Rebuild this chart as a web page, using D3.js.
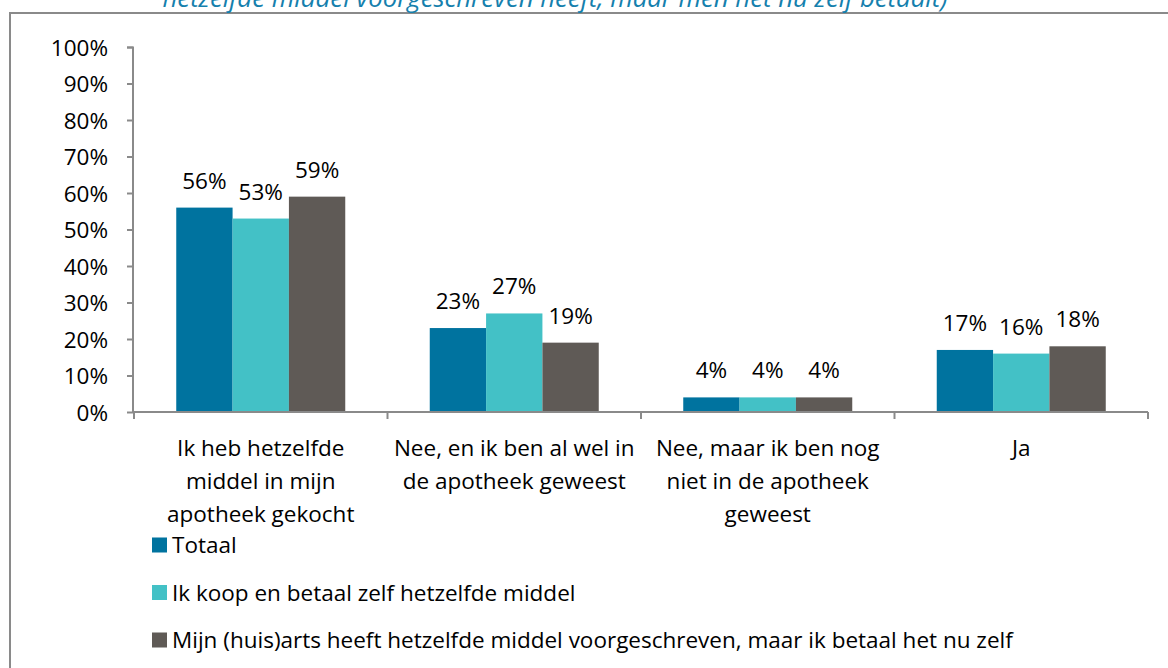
<!DOCTYPE html>
<html>
<head>
<meta charset="utf-8">
<script src="https://cdn.jsdelivr.net/npm/d3@7"></script>
<style>
  html, body { margin: 0; padding: 0; background: #fff; overflow: hidden; }
  svg { display: block; }
  text { font-family: "Open Sans", "Noto Sans", sans-serif; }
</style>
</head>
<body>
<svg id="chart" width="1168" height="668"></svg>
<script>
// ---- data ----
const categories = [
  ["Ik heb hetzelfde", "middel in mijn", "apotheek gekocht"],
  ["Nee, en ik ben al wel in", "de apotheek geweest"],
  ["Nee, maar ik ben nog", "niet in de apotheek", "geweest"],
  ["Ja"]
];
const seriesNames = [
  "Totaal",
  "Ik koop en betaal zelf hetzelfde middel",
  "Mijn (huis)arts heeft hetzelfde middel voorgeschreven, maar ik betaal het nu zelf"
];
const totaal = [0.56, 0.23, 0.04, 0.17];
const zelfGekocht = [0.53, 0.27, 0.04, 0.16];
const voorgeschreven = [0.59, 0.19, 0.04, 0.18];
const seriesColors = ["#00739f", "#43c1c6", "#5f5a56"];
const yTicks = [0, 0.1, 0.2, 0.3, 0.4, 0.5, 0.6, 0.7, 0.8, 0.9, 1.0];
const titleLine = "hetzelfde middel voorgeschreven heeft, maar men het nu zelf betaalt)";

const seriesValues = [totaal, zelfGekocht, voorgeschreven];

const svg = d3.select("#chart");
const fs = 22.5;

// frame
svg.append("rect")
  .attr("x", 10).attr("y", 13).attr("width", 1200).attr("height", 700)
  .attr("fill", "none").attr("stroke", "#8a8a8a").attr("stroke-width", 2);

// title (partially clipped line, as in the reference)
svg.append("text")
  .attr("x", 555).attr("y", 7)
  .attr("text-anchor", "middle")
  .attr("font-style", "italic")
  .attr("font-size", 25)
  .attr("textLength", 785)
  .attr("lengthAdjust", "spacingAndGlyphs")
  .attr("fill", "#1580ad")
  .text(titleLine);

// scales
const x0 = d3.scaleBand().domain(d3.range(categories.length)).range([134, 1148]).padding(0);
const bw = x0.bandwidth();
const x1 = d3.scaleBand().domain(d3.range(seriesNames.length)).range([bw / 6, bw * 5 / 6]).padding(0);
const y = d3.scaleLinear().domain([0, 1]).range([412, 47]);

// y axis
const yAxis = d3.axisLeft(y).tickValues(yTicks).tickFormat(d3.format(".0%")).tickSize(6).tickPadding(19);
const gy = svg.append("g").attr("transform", "translate(133,0)").call(yAxis);
gy.select(".domain").attr("stroke", "#8a8a8a").attr("stroke-width", 2).attr("d", "M-6,47.5H0V412");
gy.selectAll(".tick line").attr("stroke", "#8a8a8a").attr("stroke-width", 2);
gy.selectAll(".tick text").attr("font-size", fs).attr("fill", "#000")
  .attr("font-family", "'Open Sans', sans-serif").attr("dy", "0.36em");

// bars
const groups = svg.append("g").selectAll("g")
  .data(categories.map((c, i) => i))
  .join("g")
  .attr("transform", i => `translate(${x0(i)},0)`);

groups.selectAll("rect")
  .data(i => seriesValues.map((vals, s) => ({ s, v: vals[i] })))
  .join("rect")
  .attr("x", d => x1(d.s))
  .attr("width", x1.bandwidth())
  .attr("y", d => y(d.v))
  .attr("height", d => y(0) - y(d.v))
  .attr("fill", d => seriesColors[d.s]);

groups.selectAll("text.val")
  .data(i => seriesValues.map((vals, s) => ({ s, v: vals[i] })))
  .join("text")
  .attr("class", "val")
  .attr("x", d => x1(d.s) + x1.bandwidth() / 2)
  .attr("y", d => y(d.v) - 19)
  .attr("text-anchor", "middle")
  .attr("font-size", fs)
  .attr("fill", "#000")
  .text(d => d3.format(".0%")(d.v));

// x axis
const xAxisG = svg.append("g");
xAxisG.append("line")
  .attr("x1", 133).attr("x2", 1148).attr("y1", y(0)).attr("y2", y(0))
  .attr("stroke", "#8a8a8a").attr("stroke-width", 2);
const boundaries = d3.range(categories.length + 1).map(i => i < categories.length ? x0(i) : x0(i - 1) + bw);
xAxisG.selectAll("line.tick")
  .data(boundaries)
  .join("line")
  .attr("class", "tick")
  .attr("x1", d => d).attr("x2", d => d)
  .attr("y1", y(0)).attr("y2", y(0) + 7)
  .attr("stroke", "#8a8a8a").attr("stroke-width", 2);

// category labels
const catLabels = svg.append("g").selectAll("text")
  .data(categories.map((lines, i) => ({ lines, i })))
  .join("text")
  .attr("text-anchor", "middle")
  .attr("font-size", fs)
  .attr("fill", "#000");
catLabels.selectAll("tspan")
  .data(d => d.lines.map((l, k) => ({ l, k, i: d.i })))
  .join("tspan")
  .attr("x", d => x0(d.i) + bw / 2)
  .attr("y", d => 456 + d.k * 33)
  .text(d => d.l);

// legend
const legend = svg.append("g").selectAll("g")
  .data(seriesNames.map((n, i) => ({ n, i })))
  .join("g")
  .attr("transform", d => `translate(152,${545 + d.i * 47.5})`);
legend.append("rect")
  .attr("x", 0).attr("y", -7.5).attr("width", 15).attr("height", 15)
  .attr("fill", d => seriesColors[d.i]);
legend.append("text")
  .attr("x", 20).attr("y", 0).attr("dy", "0.36em")
  .attr("font-size", fs).attr("fill", "#000")
  .text(d => d.n);
</script>
</body>
</html>
